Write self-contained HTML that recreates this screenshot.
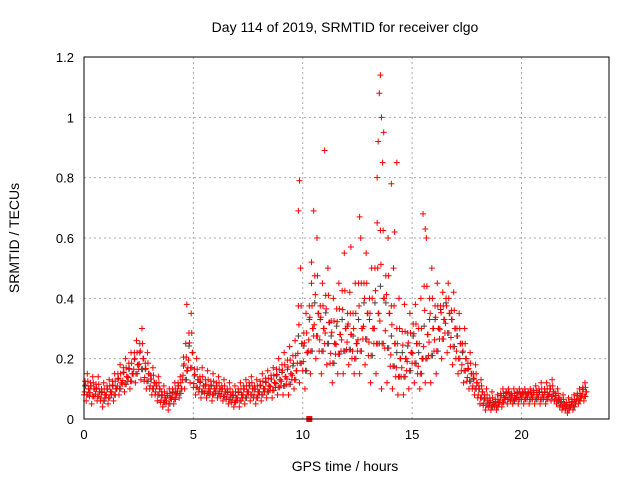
<!DOCTYPE html>
<html><head><meta charset="utf-8"><style>
body{margin:0;background:#fff}
svg text{font-family:"Liberation Sans",sans-serif;fill:#000}
</style></head><body>
<svg id="chart" width="640" height="480">
<text x="345" y="32" text-anchor="middle" font-size="14">Day 114 of 2019, SRMTID for receiver clgo</text>
<text x="345" y="471" text-anchor="middle" font-size="14">GPS time / hours</text>
<text transform="translate(19,238) rotate(-90)" text-anchor="middle" font-size="14">SRMTID / TECUs</text>
<g id="grid"></g>
<g id="marks"></g>
<rect x="84" y="57" width="525" height="362" fill="none" stroke="#000"/>
</svg>
<script>
const times=[0,0.25,0.5,0.75,1,1.25,1.5,1.75,2,2.25,2.5,2.75,3,3.25,3.5,3.75,4,4.25,4.5,4.75,5,5.25,5.5,5.75,6,6.25,6.5,6.75,7,7.25,7.5,7.75,8,8.25,8.5,8.75,9,9.25,9.5,9.75,10,10.25,10.5,10.75,11,11.25,11.5,11.75,12,12.25,12.5,12.75,13,13.25,13.5,13.75,14,14.25,14.5,14.75,15,15.25,15.5,15.75,16,16.25,16.5,16.75,17,17.25,17.5,17.75,18,18.25,18.5,18.75,19,19.25,19.5,19.75,20,20.25,20.5,20.75,21,21.25,21.5,21.75,22,22.25,22.5,22.75];
const lo=[.06,.05,.06,.04,.05,.06,.08,.09,.1,.12,.13,.1,.08,.06,.04,.03,.05,.07,.1,.12,.08,.07,.07,.06,.07,.06,.05,.04,.04,.05,.06,.05,.06,.07,.07,.08,.08,.08,.1,.12,.1,.15,.2,.15,.18,.12,.15,.15,.18,.15,.15,.18,.12,.15,.1,.12,.1,.08,.08,.1,.12,.1,.12,.12,.15,.2,.22,.18,.15,.12,.1,.08,.05,.03,.03,.03,.04,.05,.05,.05,.05,.05,.05,.05,.05,.06,.05,.03,.02,.03,.05,.06];
const mid=[.1,.1,.09,.08,.09,.1,.12,.14,.15,.18,.2,.15,.12,.1,.07,.07,.08,.1,.16,.22,.13,.11,.1,.1,.1,.09,.08,.07,.08,.09,.1,.09,.1,.11,.12,.13,.14,.15,.16,.25,.22,.3,.35,.3,.32,.25,.28,.3,.28,.25,.3,.35,.3,.35,.4,.35,.25,.2,.2,.22,.25,.2,.28,.3,.3,.33,.35,.3,.25,.2,.15,.12,.09,.06,.05,.05,.07,.08,.07,.08,.08,.08,.08,.08,.08,.09,.07,.05,.04,.05,.07,.09];
const hi=[.15,.14,.14,.12,.13,.15,.18,.2,.22,.26,.3,.22,.17,.14,.11,.1,.12,.14,.25,.35,.2,.17,.16,.15,.14,.13,.12,.11,.12,.13,.14,.13,.15,.16,.17,.2,.22,.24,.26,.5,.35,.45,.6,.45,.5,.4,.45,.55,.42,.45,.6,.55,.5,.65,.85,.6,.5,.4,.38,.35,.38,.4,.6,.5,.45,.42,.45,.42,.35,.3,.22,.18,.13,.1,.09,.08,.1,.1,.1,.1,.1,.1,.11,.12,.12,.13,.1,.08,.07,.08,.1,.12];
const outT=[9.85,9.8,11,13.55,13.5,13.6,13.7,14.3,14.05,13.4,15.5,12.2,10.5,4.7,12.6,13.45,15.6,10.4,14.2];
const outV=[.79,.69,.89,1.14,1.08,1.0,.95,.85,.78,.8,.68,.57,.69,.38,.67,.92,.63,.52,.62];
const xTicks=[0,5,10,15,20];
const yTicks=[0,0.2,0.4,0.6,0.8,1,1.2];
const yLabels=["0","0.2","0.4","0.6","0.8","1","1.2"];
const X0=84,X1=609,Y0=419,Y1=57,XMAX=24,YMAX=1.2;
const sx=t=>X0+t/XMAX*(X1-X0), sy=v=>Y0-v/YMAX*(Y0-Y1);
const NS="http://www.w3.org/2000/svg";
const grid=document.getElementById('grid'), marks=document.getElementById('marks');
function el(tag,attrs,parent){const e=document.createElementNS(NS,tag);for(const k in attrs)e.setAttribute(k,attrs[k]);parent.appendChild(e);return e;}
xTicks.forEach(t=>{
 const x=sx(t);
 if(t>0){const g=el('line',{x1:x,x2:x,y1:Y0,y2:Y1,stroke:'#aaa','stroke-dasharray':'2,3'},grid);
 
 }
 const tx=el('text',{x:x,y:Y0+20,'text-anchor':'middle','font-size':'13'},grid);tx.textContent=t;
 
 
});
yTicks.forEach((v,i)=>{
 const y=sy(v);
 if(v>0&&v<1.2){const g=el('line',{x1:X0,x2:X1,y1:y,y2:y,stroke:'#aaa','stroke-dasharray':'2,3'},grid);
 
 }
 const tx=el('text',{x:X0-10,y:y+5,'text-anchor':'end','font-size':'13'},grid);tx.textContent=yLabels[i];
 
 
});
function plus(t,v,c){
 const x=sx(t),y=sy(v);
 const p=el('path',{d:`M${x-3},${y}h6M${x},${y-3}v6`,stroke:c,'stroke-width':1,fill:'none'},marks);
 
 
}
times.forEach((t,i)=>{
 plus(t+0.05,mid[i]*1.1,'#444');
 plus(t+0.18,(lo[i]+mid[i])/2,'#444');
});
const offs=[0,0.05,0.1,0.15,0.2];
times.forEach((t,i)=>{
 const vals=[lo[i],(lo[i]+mid[i])/2,mid[i],(mid[i]+hi[i])/2,hi[i]];
 const order=[2,0,4,1,3];
 vals.forEach((v,k)=>{plus(t+offs[order[k]],v,'#f00');plus(t+offs[order[k]]+0.025,(v+mid[i])/2,'#f00');});
});
outT.forEach((t,i)=>plus(t,outV[i],'#f00'));
const sq=el('rect',{x:sx(10.3)-3,y:Y0-3,width:6,height:6,fill:'#f00'},marks);


</script>
</body></html>
